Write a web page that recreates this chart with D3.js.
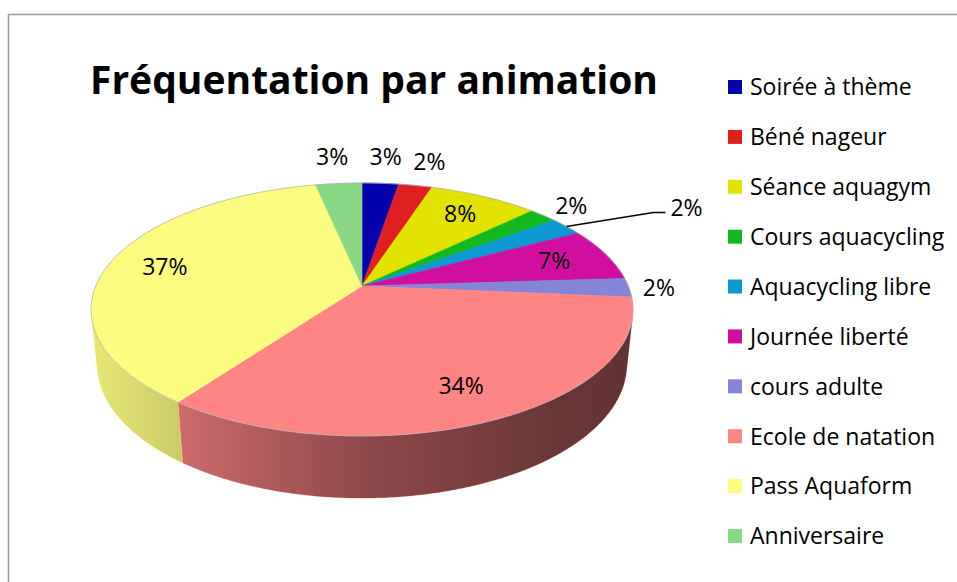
<!DOCTYPE html>
<html>
<head>
<meta charset="utf-8">
<script src="https://cdn.jsdelivr.net/npm/d3@7"></script>
<style>
  body { margin: 0; background: #fff; }
  svg { display: block; font-family: "Open Sans", sans-serif; }
</style>
</head>
<body>
<div id="chart"></div>
<script>
var width = 957, height = 582;

var title = "Fréquentation par animation";
var categories = ["Soirée à thème", "Béné nageur", "Séance aquagym", "Cours aquacycling",
                  "Aquacycling libre", "Journée liberté", "cours adulte", "Ecole de natation",
                  "Pass Aquaform", "Anniversaire"];
var values = [2.6, 2.4, 7.8, 2.0, 2.4, 6.8, 2.4, 33.6, 36.7, 3.3];
var colors = ["#0202ae", "#e02020", "#e2e200", "#12b81e", "#0c99d2",
              "#d00fa0", "#8484d8", "#ff8484", "#fcfc80", "#88d888"];

var svg = d3.select("#chart")
            .append("svg")
            .attr("width", width)
            .attr("height", height);

// chart area border
svg.append("rect")
   .attr("x", 8.5).attr("y", 14.5)
   .attr("width", width + 10).attr("height", height + 10)
   .attr("fill", "none")
   .attr("stroke", "#9a9a9a")
   .attr("stroke-width", 1.5);

svg.append("text")
   .attr("x", 90).attr("y", 94)
   .attr("font-size", 39)
   .attr("font-weight", "bold")
   .attr("fill", "#000")
   .text(title);

// simple perspective projection of a tilted disk
var cx = 362, cy = 286, F = 1274, R = 0.209, T = 0.0489;
var sinE = 0.4585, cosE = Math.sqrt(1 - sinE * sinE);

function project(a, r, h) {
    var X = r * R * Math.sin(a), Z = r * R * Math.cos(a), Y = h || 0;
    var u = Z * sinE + Y * cosE, w = 1 + Z * cosE - Y * sinE;
    return [cx + F * X / w, cy - F * u / w];
}
function arcPoints(a0, a1, r, h) {
    var n = Math.max(2, Math.ceil((a1 - a0) / 0.01)), pts = [];
    for (var i = 0; i <= n; i++) pts.push(project(a0 + (a1 - a0) * i / n, r, h));
    return pts;
}

var line = d3.line();
var color = d3.scaleOrdinal().domain(categories).range(colors);
var data = categories.map(function(c, i) { return {name: c, value: values[i]}; });
var pie = d3.pie().sort(null).value(function(d) { return d.value; });
var arcs = pie(data);
var total = d3.sum(values);

// horizontal extent of the disk, for the side shading
var rimPts = arcPoints(0, 2 * Math.PI, 1, 0);
var xMin = d3.min(rimPts, function(p) { return p[0]; });
var xMax = d3.max(rimPts, function(p) { return p[0]; });

var defs = svg.append("defs");
var grad = defs.append("linearGradient")
   .attr("id", "shade")
   .attr("gradientUnits", "userSpaceOnUse")
   .attr("x1", xMin).attr("x2", xMax)
   .attr("y1", 0).attr("y2", 0);
[[0, 0.08], [0.17, 0.2], [0.5, 0.44], [0.83, 0.58], [1, 0.62]].forEach(function(s) {
    grad.append("stop")
        .attr("offset", s[0])
        .attr("stop-color", "#000")
        .attr("stop-opacity", s[1]);
});

// side of the cylinder, only the part facing the viewer
var vis0 = Math.acos(-R / cosE), vis1 = 2 * Math.PI - vis0;
var sides = svg.append("g");
arcs.forEach(function(d) {
    var a0 = Math.max(d.startAngle, vis0), a1 = Math.min(d.endAngle, vis1);
    if (a1 <= a0) return;
    var pts = arcPoints(a0, a1, 1, 0).concat(arcPoints(a0, a1, 1, -T).reverse());
    var p = line(pts) + "Z";
    sides.append("path").attr("d", p)
         .attr("fill", color(d.data.name))
         .attr("stroke", color(d.data.name)).attr("stroke-width", 0.5);
    sides.append("path").attr("d", p)
         .attr("fill", "url(#shade)");
});

// top face
var topFace = svg.append("g");
topFace.selectAll("path")
   .data(arcs)
   .enter()
   .append("path")
   .attr("d", function(d) {
       return line([project(0, 0, 0)].concat(arcPoints(d.startAngle, d.endAngle, 1, 0))) + "Z";
   })
   .attr("fill", function(d) { return color(d.data.name); })
   .attr("stroke", function(d) { return color(d.data.name); })
   .attr("stroke-width", 0.6);

topFace.append("path")
   .attr("d", line(rimPts) + "Z")
   .attr("fill", "none")
   .attr("stroke", "#b4b4b4")
   .attr("stroke-width", 0.8);

// data labels
var labels = svg.append("g").attr("font-size", 23).attr("fill", "#000");
var placed = [];
var apex = project(0, 0, 0);
arcs.forEach(function(d) {
    var share = d.data.value / total;
    var txt = Math.round(share * 100) + "%";
    var mid = (d.startAngle + d.endAngle) / 2;
    var t = labels.append("text").text(txt);
    var tw = t.node().getComputedTextLength();
    if (share >= 0.05) {
        var c = project(mid, 0.78, 0);
        t.attr("x", c[0]).attr("y", c[1] + 8).attr("text-anchor", "middle");
        placed.push([c[0] - tw / 2, c[1] - 11, c[0] + tw / 2, c[1] + 11]);
        return;
    }
    var P = project(mid, 1, 0);
    var vx = P[0] - apex[0], vy = P[1] - apex[1], len = Math.sqrt(vx * vx + vy * vy);
    vx /= len; vy /= len;
    var gx = P[0] + vx * 14 + vx * tw / 2, gy = P[1] + vy * 14 + vy * 13;
    var box = [gx - tw / 2, gy - 11, gx + tw / 2, gy + 11];
    var hit = placed.some(function(b) {
        return box[0] < b[2] && box[2] > b[0] && box[1] < b[3] && box[3] > b[1];
    });
    if (hit) {
        var elbow = [P[0] + 87, P[1] - 14];
        labels.append("path")
              .attr("d", line([P, elbow, [elbow[0] + 12, elbow[1]]]))
              .attr("fill", "none")
              .attr("stroke", "#000")
              .attr("stroke-width", 1.3);
        t.attr("x", elbow[0] + 17).attr("y", elbow[1] - 5 + 8).attr("text-anchor", "start");
        placed.push([elbow[0] + 17, elbow[1] - 16, elbow[0] + 17 + tw, elbow[1] + 6]);
    } else {
        t.attr("x", gx).attr("y", gy + 8).attr("text-anchor", "middle");
        placed.push(box);
    }
});

// legend
var legendY = d3.scalePoint().domain(categories).range([87, 536]);
var legend = svg.append("g")
   .selectAll("g")
   .data(categories)
   .enter()
   .append("g")
   .attr("transform", function(d) { return "translate(728," + legendY(d) + ")"; });
legend.append("rect")
   .attr("x", 0).attr("y", -7)
   .attr("width", 14).attr("height", 14)
   .attr("fill", function(d) { return color(d); });
legend.append("text")
   .attr("x", 22).attr("y", 8.3)
   .attr("font-size", 23)
   .attr("fill", "#000")
   .text(function(d) { return d; });
</script>
</body>
</html>
